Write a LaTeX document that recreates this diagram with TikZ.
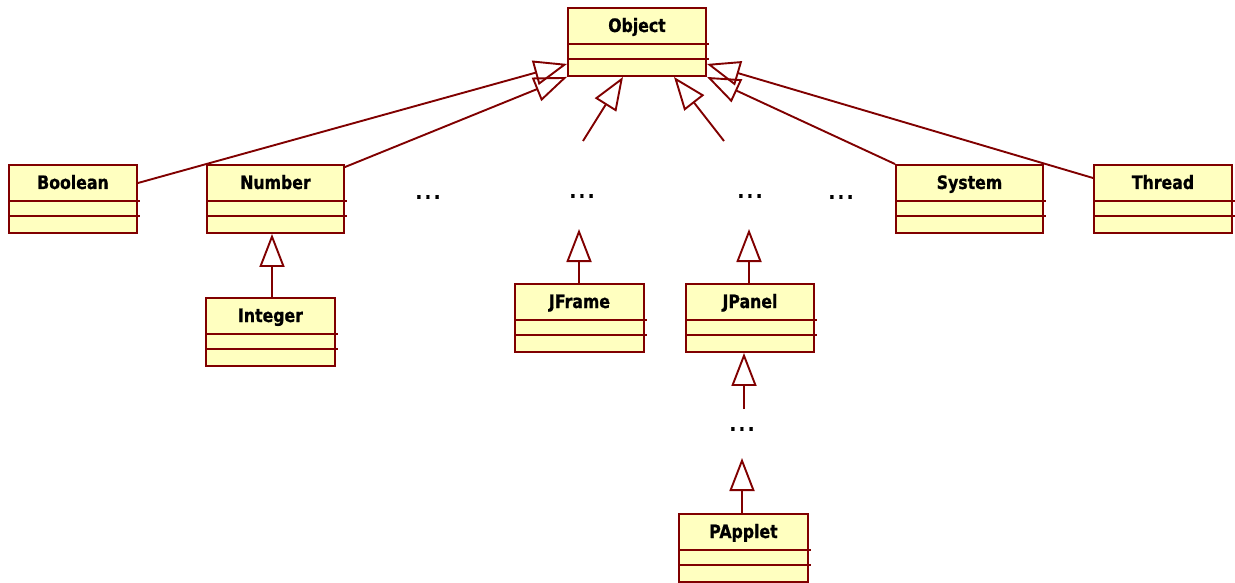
\documentclass[tikz,border=0pt]{standalone}
\usepackage{fontspec}
\setmainfont{DejaVu Sans}
\newfontfamily\classfont[FakeStretch=0.85, FakeBold=0.8]{DejaVu Sans}
\usetikzlibrary{arrows.meta}
\definecolor{umlred}{RGB}{128,0,0}
\definecolor{umlfill}{RGB}{255,255,192}
\tikzset{
  classbox/.style={draw=umlred, fill=umlfill, line width=1.9pt, inner sep=0pt},
  classline/.style={draw=umlred, line width=1.9pt},
  classname/.style={font=\classfont\fontsize{18.5}{21}\selectfont\bfseries,
    inner sep=0pt, anchor=base, text=black},
  inh/.style={draw=umlred, line width=1.9pt, line join=miter,
    -{Triangle[open, length=33pt, width=25pt]}},
  ellipsis/.style={font=\classfont\fontsize{19}{21}\selectfont\bfseries, inner sep=0pt},
}
% UML class box: name, left x, right x, top y, class name
\newcommand\umlbox[5]{%
  \node[classbox, minimum width={#3pt-#2pt}, minimum height=68pt]
    (#1) at ({(#2+#3)/2},{#4+34}) {};
  \draw[classline] ({#2},{#4+36}) -- ({#3+3},{#4+36});
  \draw[classline] ({#2},{#4+51}) -- ({#3+3},{#4+51});
  \node[classname] (#1-t) at ({(#2+#3)/2},{#4+24}) {#5};
}
\newcommand\threedots{.\kern3pt.\kern3pt.}
\begin{document}
\begin{tikzpicture}[x=1pt,y=-1pt]
\useasboundingbox (0,0) rectangle (1235,583);

% classes
\umlbox{obj}{568}{706}{8}{Object}
\umlbox{boolean}{9}{137}{165}{Boolean}
\umlbox{number}{207}{344}{165}{Number}
\umlbox{system}{896}{1043}{165}{System}
\umlbox{thread}{1094}{1232}{165}{Thread}
\umlbox{integer}{206}{335}{298}{Integer}
\umlbox{jframe}{515}{644}{284}{JFrame}
\umlbox{jpanel}{686}{814}{284}{JPanel}
\umlbox{papplet}{679}{808}{514}{PApplet}

% elided classes
\node[ellipsis] (dotsA) at (428,197) {\threedots};
\node[ellipsis] (dotsB) at (582,196) {\threedots};
\node[ellipsis] (dotsC) at (750,196) {\threedots};
\node[ellipsis] (dotsD) at (841,197) {\threedots};
\node[ellipsis] (dotsE) at (742,429) {\threedots};

% loose ends next to the elided classes
\coordinate (upB) at (583,141);
\coordinate (upC) at (724,141);
\coordinate (downB) at (579,229);
\coordinate (downC) at (749,229);
\coordinate (panelSub) at (744,409);
\coordinate (appletSup) at (742,458);

% inheritance into Object
\draw[inh] ([yshift=16pt]boolean.east) -- ([yshift=13pt]obj.south west);
\draw[inh] ([yshift=-3pt]number.north east) -- (obj.south west);
\draw[inh] (upB) -- ([xshift=-14pt]obj.south);
\draw[inh] (upC) -- ([xshift=37pt]obj.south);
\draw[inh] (system.north west) -- (obj.south east);
\draw[inh] ([yshift=21pt]thread.west) -- ([yshift=13pt]obj.south east);

% lower levels
\draw[inh] (integer.north -| 272,0) -- (number.south -| 272,0);
\draw[inh] (jframe.north -| downB) -- (downB);
\draw[inh] (jpanel.north -| downC) -- (downC);
\draw[inh] (panelSub) -- (jpanel.south -| panelSub);
\draw[inh] (papplet.north -| appletSup) -- (appletSup);
\end{tikzpicture}
\end{document}
